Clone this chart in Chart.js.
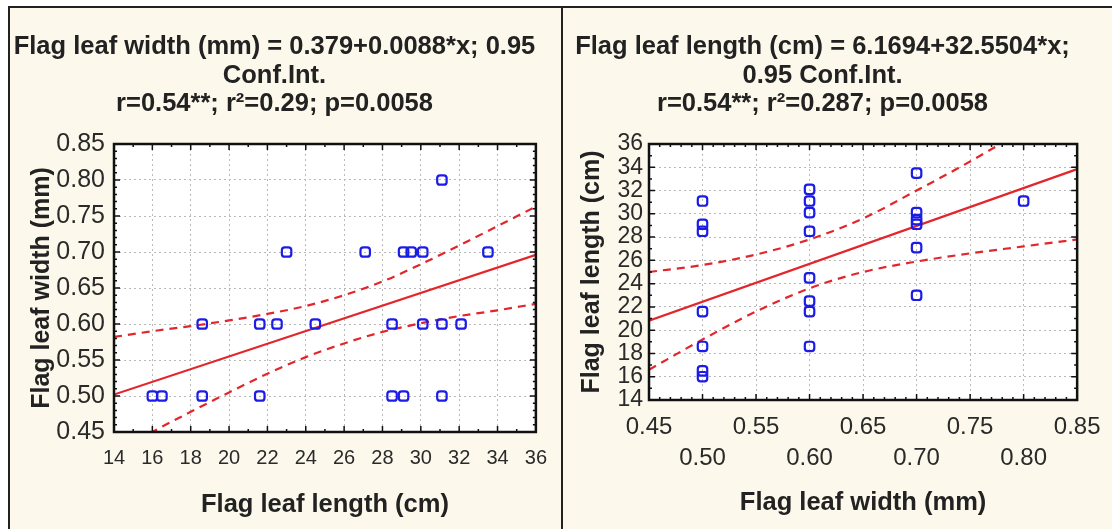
<!DOCTYPE html>
<html>
<head>
<meta charset="utf-8">
<script src="https://cdn.jsdelivr.net/npm/chart.js@4.4.1/dist/chart.umd.min.js"></script>
<style>
  body { margin: 0; background: #ffffff; }
  #frame { position: absolute; left: 8px; top: 6px; width: 1104px; height: 523px;
           border-top: 2px solid #222; border-left: 2px solid #222; background: #fdf8ec; }
  .panel { position: absolute; top: 0; height: 521px; }
  #divider { position: absolute; left: 551px; top: 0; width: 2px; height: 521px; background: #222; }
</style>
</head>
<body>
<div id="frame">
  <div class="panel" style="left:0;width:551px"><canvas id="leftChart" width="551" height="521"></canvas></div>
  <div id="divider"></div>
  <div class="panel" style="left:553px;width:549px"><canvas id="rightChart" width="549" height="521"></canvas></div>
</div>
<script>
// observations: flag leaf length (cm) and flag leaf width (mm)
var lengthCm = [16.0, 16.5, 18.6, 21.6, 28.5, 29.1, 31.1,
                18.6, 21.6, 22.5, 24.5, 28.5, 30.1, 31.1, 32.1,
                23.0, 27.1, 29.1, 29.5, 30.1, 33.5,
                31.1];
var widthMm = [0.5, 0.5, 0.5, 0.5, 0.5, 0.5, 0.5,
               0.6, 0.6, 0.6, 0.6, 0.6, 0.6, 0.6, 0.6,
               0.7, 0.7, 0.7, 0.7, 0.7, 0.7,
               0.8];

// left chart: width vs length, fit line and 0.95 conf. band
var leftFitX = [14, 36];
var leftFitY = [0.502, 0.696];
var leftBandX = [14, 16, 18, 20, 22, 24, 26, 28, 30, 32, 34, 36];
var leftUpper = [0.582, 0.590, 0.597, 0.605, 0.614, 0.625, 0.640, 0.659, 0.683, 0.709, 0.736, 0.763];
var leftLower = [0.418, 0.450, 0.478, 0.505, 0.531, 0.554, 0.573, 0.589, 0.601, 0.611, 0.619, 0.628];

// right chart: length vs width
var rightFitX = [0.45, 0.85];
var rightFitY = [20.82, 33.84];
var rightBandX = [0.45, 0.50, 0.55, 0.60, 0.65, 0.70, 0.75, 0.80, 0.85];
var rightUpper = [25.0, 25.6, 26.5, 27.8, 29.6, 32.0, 34.5, 37.2, 40.0];
var rightLower = [16.6, 19.2, 21.6, 23.6, 25.0, 25.9, 26.6, 27.2, 27.8];

var leftTitle = ['Flag leaf width (mm) = 0.379+0.0088*x; 0.95', 'Conf.Int.', 'r=0.54**; r\u00b2=0.29; p=0.0058'];
var rightTitle = ['Flag leaf length (cm) = 6.1694+32.5504*x;', '0.95 Conf.Int.', 'r=0.54**; r\u00b2=0.287; p=0.0058'];

var FONT = "'Liberation Sans', Arial, sans-serif";
var RED = '#e2262c';
var BLUE = '#1c1ce8';

function pts(xs, ys) {
  return xs.map(function (x, i) { return { x: x, y: ys[i] }; });
}

// white plot area, closed black box and small inward ticks
var boxPlugin = {
  id: 'box',
  beforeDraw: function (chart) {
    var a = chart.chartArea, ctx = chart.ctx;
    ctx.save();
    ctx.fillStyle = '#ffffff';
    ctx.fillRect(a.left, a.top, a.right - a.left, a.bottom - a.top);
    ctx.restore();
  },
  afterDraw: function (chart) {
    var a = chart.chartArea, ctx = chart.ctx;
    var sub = chart.options.plugins.box;
    ctx.save();
    ctx.strokeStyle = '#111';
    ctx.lineWidth = 1.5;
    ctx.beginPath();
    ['x', 'y'].forEach(function (id) {
      var s = chart.scales[id];
      var n = sub[id];
      var step = (s.max - s.min) / ((s.ticks.length - 1) * n);
      for (var k = 0; k <= (s.ticks.length - 1) * n; k++) {
        var len = k % n === 0 ? 6 : 3;
        var p = s.getPixelForValue(s.min + k * step);
        if (id === 'x') {
          ctx.moveTo(p, a.bottom); ctx.lineTo(p, a.bottom - len);
          ctx.moveTo(p, a.top); ctx.lineTo(p, a.top + len);
        } else {
          ctx.moveTo(a.left, p); ctx.lineTo(a.left + len, p);
          ctx.moveTo(a.right, p); ctx.lineTo(a.right - len, p);
        }
      }
    });
    ctx.stroke();
    ctx.lineWidth = 2.5;
    ctx.strokeRect(a.left, a.top, a.right - a.left, a.bottom - a.top);
    ctx.restore();
  }
};

function makeChart(canvasId, cfg) {
  var datasets = [
    {
      type: 'scatter',
      data: pts(cfg.xs, cfg.ys),
      pointStyle: 'rectRounded',
      pointRadius: 5.5,
      pointBorderWidth: 2.2,
      borderColor: BLUE,
      backgroundColor: 'rgba(0,0,0,0)',
      order: 0
    },
    {
      type: 'line',
      data: pts(cfg.fitX, cfg.fitY),
      borderColor: RED,
      borderWidth: 2.2,
      pointRadius: 0,
      fill: false,
      order: 1
    },
    {
      type: 'line',
      data: pts(cfg.bandX, cfg.upper),
      borderColor: RED,
      borderWidth: 2.2,
      borderDash: [8, 6],
      pointRadius: 0,
      cubicInterpolationMode: 'monotone',
      fill: false,
      order: 2
    },
    {
      type: 'line',
      data: pts(cfg.bandX, cfg.lower),
      borderColor: RED,
      borderWidth: 2.2,
      borderDash: [8, 6],
      pointRadius: 0,
      cubicInterpolationMode: 'monotone',
      fill: false,
      order: 3
    }
  ];

  return new Chart(document.getElementById(canvasId), {
    type: 'scatter',
    data: { datasets: datasets },
    plugins: [boxPlugin],
    options: {
      responsive: false,
      animation: false,
      layout: { padding: { left: 0, right: cfg.padRight, top: 0, bottom: 0 } },
      scales: {
        x: {
          type: 'linear',
          min: cfg.xMin, max: cfg.xMax,
          afterFit: function (s) { s.height = cfg.xAxisHeight; },
          ticks: {
            stepSize: cfg.xStep,
            autoSkip: false,
            maxRotation: 0,
            padding: cfg.xTickPad,
            color: '#2a2a2a',
            font: { family: FONT, size: cfg.xTickSize, lineHeight: cfg.xTickLine },
            callback: cfg.xLabel
          },
          grid: { color: '#b9b9b9', drawTicks: false },
          border: { display: false, dash: [2, 3] },
          title: {
            display: true,
            text: cfg.xTitle,
            color: '#222',
            padding: { top: 0, bottom: cfg.xTitlePad },
            font: { family: FONT, size: 25.5, weight: 'bold', lineHeight: 1.2 }
          }
        },
        y: {
          type: 'linear',
          min: cfg.yMin, max: cfg.yMax,
          afterFit: function (s) { s.width = cfg.yAxisWidth; },
          ticks: {
            stepSize: cfg.yStep,
            autoSkip: false,
            padding: cfg.yTickPad,
            color: '#2a2a2a',
            font: { family: FONT, size: cfg.yTickSize },
            callback: cfg.yLabel
          },
          grid: { color: '#b9b9b9', drawTicks: false },
          border: { display: false, dash: [2, 3] },
          title: {
            display: true,
            text: cfg.yTitle,
            color: '#222',
            padding: { top: cfg.yTitlePad, bottom: 0 },
            font: { family: FONT, size: 25, weight: 'bold', lineHeight: 1.2 }
          }
        }
      },
      plugins: {
        legend: { display: false },
        tooltip: { enabled: false },
        box: cfg.sub,
        title: {
          display: true,
          text: cfg.title,
          color: '#222',
          padding: { top: 25, bottom: 25.5 },
          font: { family: FONT, size: 25.5, weight: 'bold', lineHeight: '28.5px' }
        }
      }
    }
  });
}

window.onload = function () {
  makeChart('leftChart', {
    xs: lengthCm, ys: widthMm,
    fitX: leftFitX, fitY: leftFitY,
    bandX: leftBandX, upper: leftUpper, lower: leftLower,
    title: leftTitle,
    xTitle: 'Flag leaf length (cm)', yTitle: 'Flag leaf width (mm)',
    xMin: 14, xMax: 36, xStep: 2,
    yMin: 0.45, yMax: 0.85, yStep: 0.05,
    xLabel: function (v) { return String(Math.round(v)); },
    yLabel: function (v) { return v.toFixed(2); },
    xTickSize: 20, xTickLine: 1.2, xTickPad: 14,
    yTickSize: 25, yTickPad: 9,
    xAxisHeight: 97, yAxisWidth: 104, padRight: 22,
    xTitlePad: 9, yTitlePad: 17,
    sub: { x: 2, y: 5 }
  });

  makeChart('rightChart', {
    xs: widthMm, ys: lengthCm,
    fitX: rightFitX, fitY: rightFitY,
    bandX: rightBandX, upper: rightUpper, lower: rightLower,
    title: rightTitle,
    xTitle: 'Flag leaf width (mm)', yTitle: 'Flag leaf length (cm)',
    xMin: 0.45, xMax: 0.85, xStep: 0.05,
    yMin: 14, yMax: 36, yStep: 2,
    xLabel: function (v, i) {
      var s = v.toFixed(2);
      return i % 2 === 0 ? s : ['', s];
    },
    yLabel: function (v) { return String(Math.round(v)); },
    xTickSize: 24, xTickLine: '31px', xTickPad: 11.5,
    yTickSize: 23, yTickPad: 6,
    xAxisHeight: 129, yAxisWidth: 86, padRight: 30,
    xTitlePad: 11, yTitlePad: 14,
    sub: { x: 5, y: 2 }
  });
};
</script>
</body>
</html>
